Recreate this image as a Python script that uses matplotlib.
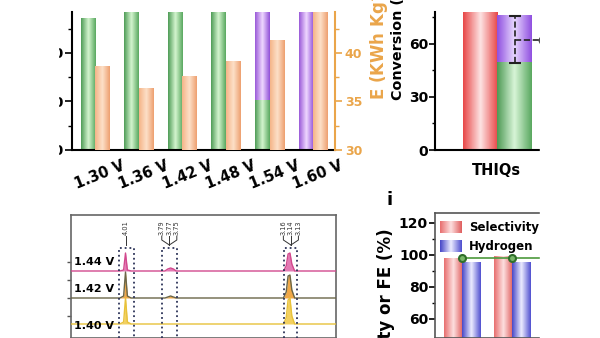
import numpy as np
import matplotlib
matplotlib.use("Agg")
import matplotlib.pyplot as plt
import matplotlib.transforms as mtrans
from matplotlib.colors import LinearSegmentedColormap
from matplotlib.patches import Rectangle

plt.rcParams['font.family'] = ['DejaVu Sans']
plt.rcParams['font.weight'] = 'bold'
plt.rcParams['xtick.direction'] = 'out'
plt.rcParams['ytick.direction'] = 'out'

W, H = 600, 338
ORANGE = '#eaa54a'

# energy consumption / FE vs cell potential
potentials = ['1.30 V', '1.36 V', '1.42 V', '1.48 V', '1.54 V', '1.60 V']
fe_green = [97.2, 100, 100, 100, 80.3, 0]
fe_purple = [0, 0, 0, 0, 20, 100]
energy = [38.6, 36.3, 37.6, 39.1, 41.3, 46.0]

# conversion of THIQs
conv_cats = ['THIQs']
conv_red = [100]
conv_green = [50]
conv_purple = [26.4]
conv_mean = [62.3]
conv_err = [13.3]

# 1H NMR traces (ppm, intensity offsets)
ppm = [4.30, 4.04, 4.02, 4.01, 4.00, 3.98, 3.80, 3.785, 3.77, 3.755, 3.74,
       3.17, 3.155, 3.145, 3.135, 3.125, 3.11, 2.89]
nmr_144 = [67, 67, 68, 85, 68, 67, 67, 69, 70, 69, 67, 67, 72, 84, 85, 74, 67, 67]
nmr_142 = [40, 40, 42, 66, 42, 40, 40, 41, 42, 41, 40, 40, 46, 62, 63, 48, 40, 40]
nmr_140 = [14, 14, 16, 40, 16, 14, 14, 14, 14, 14, 14, 14, 20, 38, 40, 22, 14, 14]
nmr_labels = ['1.44 V', '1.42 V', '1.40 V']
peak_centers = [4.007, 3.777, 3.13]
peak_labels = [['4.01'], ['3.79', '3.77', '3.75'], ['3.16', '3.14', '3.13']]

# selectivity / FE
sel_groups = [0, 1, 2]
selectivity = [98.1, 98.8, 98.5]
hydrogen = [95.6, 95.0, 95.4]
fe_line = [98.2, 98.2, 98.2]

fig = plt.figure(figsize=(6, 3.38), dpi=100)


def px_axes(x0, y0, x1, y1):
    return fig.add_axes([x0 / W, 1 - y1 / H, (x1 - x0) / W, (y1 - y0) / H])


def grad_bars(ax, x, heights, width, colors, bottom=None):
    bars = ax.bar(x, heights, width, bottom=bottom, color='none', edgecolor='none')
    cmap = LinearSegmentedColormap.from_list('g', colors)
    grad = np.linspace(0, 1, 64).reshape(1, -1)
    for b in bars:
        if b.get_height() <= 0:
            continue
        x0, y0 = b.get_x(), b.get_y()
        ax.imshow(grad, cmap=cmap, aspect='auto', interpolation='bilinear',
                  extent=(x0, x0 + b.get_width(), y0, y0 + b.get_height()), zorder=2)
    return bars


# ---------------- top left
ax = px_axes(72, 12, 335, 150)
ax2 = ax.twinx()
xs = np.arange(len(potentials))
grad_bars(ax, xs - 0.167, fe_green, 0.333, ['#4f9c57', '#d4f5cf', '#5aa860'])
grad_bars(ax, xs - 0.167, fe_purple, 0.333, ['#9a5ad8', '#efd8ff', '#9050d8'], bottom=fe_green)
grad_bars(ax2, xs + 0.167, energy, 0.333, ['#f5b488', '#fde0c8', '#eea070'])
ax.set_xlim(-0.53, 5.5)
ax.set_ylim(70, 98.45)
ax2.set_ylim(30, 44.2)
ax.set_yticks([70, 80, 90])
ax.set_yticks([75, 85, 95], minor=True)
ax.tick_params(axis='y', which='major', length=5, width=1.2, labelsize=10, pad=1)
ax.tick_params(axis='y', which='minor', length=3, width=1)
ax.set_xticks(xs)
ax.set_xticklabels(potentials, rotation=22, ha='center', va='top', fontsize=10.5)
ax.tick_params(axis='x', length=0, pad=6)
off = mtrans.ScaledTranslation(0.05, 0, fig.dpi_scale_trans)
for lab in ax.get_xticklabels():
    lab.set_transform(lab.get_transform() + off)
ax2.set_yticks([30, 35, 40])
ax2.set_yticks([32.5, 37.5, 42.5], minor=True)
ax2.tick_params(axis='y', which='major', colors=ORANGE, length=5, width=1.2, labelsize=9, pad=2)
ax2.tick_params(axis='y', which='minor', colors=ORANGE, length=3, width=1)
for a in (ax, ax2):
    a.spines['top'].set_visible(False)
ax.spines['right'].set_visible(False)
ax2.spines['left'].set_visible(False)
ax2.spines['bottom'].set_visible(False)
ax2.spines['right'].set_color(ORANGE)
ax2.spines['right'].set_linewidth(1.5)
ax.spines['left'].set_linewidth(1.5)
ax.spines['bottom'].set_linewidth(1.5)
fig.text(379 / W, 1 - 100 / H, 'E (KWh Kg$^{\\mathbf{-1}}$)', rotation=90, ha='center',
         va='bottom', color=ORANGE, fontsize=12)

# ---------------- top right
bx = px_axes(435, 12, 570, 150)
grad_bars(bx, [-0.5], conv_red, 1.0, ['#e84848', '#fde4e4', '#e84848'])
grad_bars(bx, [0.5], conv_green, 1.0, ['#4f9a55', '#d8f5d8', '#5aa860'])
grad_bars(bx, [0.5], conv_purple, 1.0, ['#9050e0', '#e8d8ff', '#9050e0'], bottom=conv_green)
eb = bx.errorbar([0.53], conv_mean, yerr=conv_err, fmt='none', ecolor='#222222',
                 elinewidth=1.2, capsize=4, capthick=1.5, zorder=4)
eb[2][0].set_linestyle('--')
bx.plot([0.53, 1.33], [conv_mean[0], conv_mean[0]], ls='--', color='#222222', lw=1.2, zorder=4)
bx.plot([1.36], conv_mean, 'o', mfc='white', mec='#222222', ms=6, zorder=5)
bx.set_xlim(-1.82, 2.15)
bx.set_ylim(0, 78.1)
bx.set_yticks([0, 30, 60])
bx.set_yticks([15, 45, 75], minor=True)
bx.tick_params(axis='y', which='major', length=4, width=1.2, labelsize=10, pad=1)
bx.tick_params(axis='y', which='minor', length=2.5, width=1)
bx.set_xticks([0])
bx.set_xticklabels(conv_cats, fontsize=10.5)
bx.tick_params(axis='x', length=0, pad=9)
bx.spines['top'].set_visible(False)
bx.spines['right'].set_visible(False)
bx.spines['left'].set_linewidth(1.5)
bx.spines['bottom'].set_linewidth(1.5)
fig.text(398 / W, 1 - 100 / H, 'Conversion (%)', rotation=90, ha='center', va='bottom',
         fontsize=10.3, color='black')

# ---------------- bottom left, NMR
cx = px_axes(71, 215, 336, 338)
traces = [(nmr_144, '#d2498e', '#e47ab5'), (nmr_142, '#6b6648', '#f0a848'),
          (nmr_140, '#e8c23a', '#f3d060')]
for vals, lc, fc in traces:
    base = min(vals)
    cx.fill_between(ppm, base, vals, color=fc, lw=0, zorder=2)
    cx.plot(ppm, vals, color=lc, lw=1.0, zorder=3)
for vals, lab in zip([nmr_144, nmr_142, nmr_140], nmr_labels):
    ytxt = min(vals) + 9 if lab != '1.40 V' else min(vals) - 2
    cx.text(4.283, ytxt, lab, ha='left', va='center', fontsize=8, zorder=4)
halfw = [0.04, 0.04, 0.035]
for c, hw in zip(peak_centers, halfw):
    cx.plot([c + hw, c + hw, c - hw, c - hw], [0, 90, 90, 0], ls=':', color='#2c3358',
            lw=1.3, zorder=5)
for c, labs in zip(peak_centers, peak_labels):
    n = len(labs)
    for k, s in enumerate(labs):
        lx = c - (k - (n - 1) / 2) * 0.04
        cx.text(lx, 103, s, rotation=90, ha='center', va='bottom', fontsize=4.8,
                fontweight='normal', color='#333333')
        cx.plot([lx, lx, c], [102, 98, 93], color='#333333', lw=0.7)
cx.set_xlim(4.30, 2.89)
cx.set_ylim(0, 123)
cx.set_xticks([])
cx.set_yticks([22, 40, 58, 76])
cx.set_yticklabels([])
cx.tick_params(axis='y', length=3, width=1, color='#555555')
for s in cx.spines.values():
    s.set_color('#666666')
    s.set_linewidth(1.2)

# ---------------- bottom right
dx = px_axes(435, 213, 570, 338)
sg = np.array(sel_groups)
grad_bars(dx, sg - 0.185, selectivity, 0.37, ['#e87070', '#fde0e0', '#e06060'])
grad_bars(dx, sg + 0.185, hydrogen, 0.37, ['#4848c8', '#ececff', '#5050d0'])
dx.plot(sg, fe_line, '-o', color='#4d9a3c', lw=1.2, ms=5, mfc='#7ab86a', mec='#2f6f2a',
        mew=1.5, zorder=5)
dx.set_yticks([60, 80, 100, 120])
dx.set_yticks([70, 90, 110], minor=True)
dx.tick_params(axis='y', which='major', length=4, width=1.2, labelsize=10, pad=1)
dx.tick_params(axis='y', which='minor', length=2.5, width=1)
dx.set_xticks([])
for s in dx.spines.values():
    s.set_color('#555555')
    s.set_linewidth(1.2)
# legend with gradient swatches
leg = [('Selectivity', ['#e87070', '#fde0e0', '#e06060']),
       ('Hydrogen', ['#4848c8', '#ececff', '#5050d0'])]
for k, (name, cols) in enumerate(leg):
    y0 = 0.84 - k * 0.15
    cmap = LinearSegmentedColormap.from_list('l', cols)
    dx.imshow(np.linspace(0, 1, 32).reshape(1, -1), cmap=cmap, aspect='auto',
              interpolation='bilinear', extent=(0.04, 0.2, y0, y0 + 0.09),
              transform=dx.transAxes, zorder=6)
    dx.text(0.25, y0 + 0.045, name, transform=dx.transAxes, ha='left', va='center',
            fontsize=8.5, zorder=6)
dx.set_xlim(-0.54, 2.16)
dx.set_ylim(48.1, 126.25)
fig.text(386 / W, 1 - 228 / H, 'Selectivity or FE (%)', rotation=90, ha='center',
         va='top', fontsize=12, color='black')
fig.text(390 / W, 1 - 200 / H, 'i', ha='center', va='center', fontsize=13, color='black')

# crop of the original figure
fig.add_artist(Rectangle((0, 0), 58 / W, 1, transform=fig.transFigure, color='white',
                         zorder=100))
fig.add_artist(Rectangle((540 / W, 0), 1 - 540 / W, 1, transform=fig.transFigure,
                         color='white', zorder=100))

fig.savefig('out.png', dpi=100)
